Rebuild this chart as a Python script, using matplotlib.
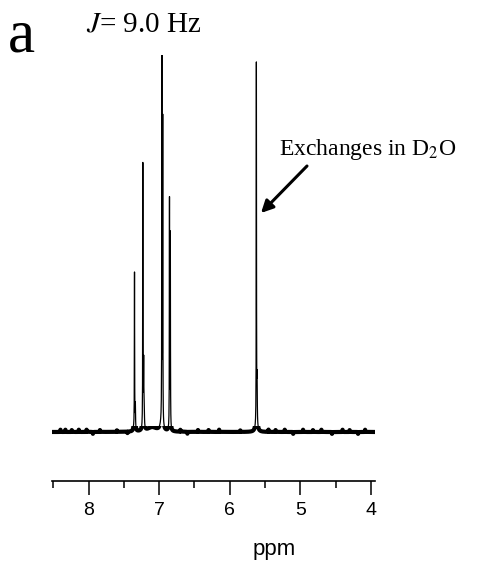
import numpy as np
import matplotlib.pyplot as plt
from matplotlib.patches import Rectangle

plt.rcParams['mathtext.fontset'] = 'stix'

# peak list: position (ppm), relative height, hwhm (ppm)
peak_ppm = [7.350, 7.338, 7.232, 7.220, 7.212, 6.962, 6.950, 6.854, 6.842, 5.622, 5.612]
peak_height = [41.5, 6.6, 70.0, 17.5, 5.0, 96.5, 80.5, 60.8, 51.5, 96.0, 11.7]
peak_hwhm = [0.002, 0.003, 0.002, 0.003, 0.003, 0.002, 0.002, 0.002, 0.002, 0.002, 0.003]

# broad humps under the aromatic signals
hump_ppm = [7.10, 6.97, 7.36, 5.62]
hump_height = [1.2, 1.8, 0.8, 1.2]
hump_hwhm = [0.08, 0.02, 0.01, 0.02]

# little noise spikes on the baseline
spike_ppm = [8.40, 8.33, 8.24, 8.14, 8.03, 7.94, 7.84, 7.60, 7.45, 6.70, 6.60, 6.45,
             6.30, 6.15, 5.85, 5.45, 5.35, 5.22, 5.10, 4.96, 4.82, 4.70, 4.55, 4.40,
             4.30, 4.18, 4.08]
spike_height = [0.6, 0.6, 0.5, 0.6, 0.6, -0.5, 0.5, 0.4, -0.4, 0.5, -0.5, 0.5,
                0.5, 0.6, 0.4, 0.6, 0.5, 0.6, -0.5, 0.6, 0.5, 0.6, -0.5, 0.6,
                0.5, -0.5, 0.6]

xmin, xmax = 8.52, 3.94
major_ticks = [8, 7, 6, 5, 4]
minor_ticks = [8.5, 7.5, 6.5, 5.5, 4.5]

ppm = np.sort(np.concatenate([np.arange(3.94, 8.52, 0.0005), peak_ppm]))
y = np.zeros_like(ppm)
for p, h, w in zip(peak_ppm + hump_ppm + spike_ppm,
                   peak_height + hump_height + spike_height,
                   peak_hwhm + hump_hwhm + [0.0015] * len(spike_ppm)):
    y += h * w**2 / ((ppm - p)**2 + w**2)

fig = plt.figure(figsize=(4.79, 5.67), dpi=100)
ax = fig.add_axes([52 / 479, 86 / 567, (375 - 52) / 479, (481 - 55) / 567])

ax.plot(ppm, y, color='black', lw=0.9)
thick, = ax.plot(ppm, y, color='black', lw=3.0)
clip = Rectangle((xmax, -5), xmin - xmax, 6.5, transform=ax.transData)
thick.set_clip_path(clip)

ax.set_xlim(xmin, xmax)
ax.set_ylim(-13.0, 100.0)
ax.set_yticks([])
for s in ['left', 'right', 'top']:
    ax.spines[s].set_visible(False)
ax.spines['bottom'].set_linewidth(1.2)
ax.set_xticks(major_ticks)
ax.set_xticks(minor_ticks, minor=True)
ax.set_xticklabels([str(t) for t in major_ticks], family='Liberation Sans', fontsize=14)
ax.tick_params(axis='x', which='major', direction='out', length=10, width=1.1, pad=5)
ax.tick_params(axis='x', which='minor', direction='out', length=5, width=1.1)
ax.set_xlabel('ppm', family='Liberation Sans', fontsize=16)
ax.xaxis.set_label_coords(0.687, -0.135)

fig.text(8 / 479, 1 - 52 / 567, 'a', family='Liberation Serif', fontsize=44)
fig.text(86 / 479, 1 - 32 / 567, '$\\mathit{J}$= 9.0 Hz', family='Liberation Serif', fontsize=21)
fig.text(279 / 479, 1 - 155 / 567, 'Exchanges in D$_2$O', family='Liberation Serif', fontsize=17)
ax.annotate('', xy=(261 / 479, 1 - 213 / 567), xycoords='figure fraction',
            xytext=(307 / 479, 1 - 166 / 567), textcoords='figure fraction',
            arrowprops=dict(arrowstyle='-|>', color='black', lw=2.2,
                            mutation_scale=18, shrinkA=0, shrinkB=0))

fig.savefig('out.png', dpi=100)
